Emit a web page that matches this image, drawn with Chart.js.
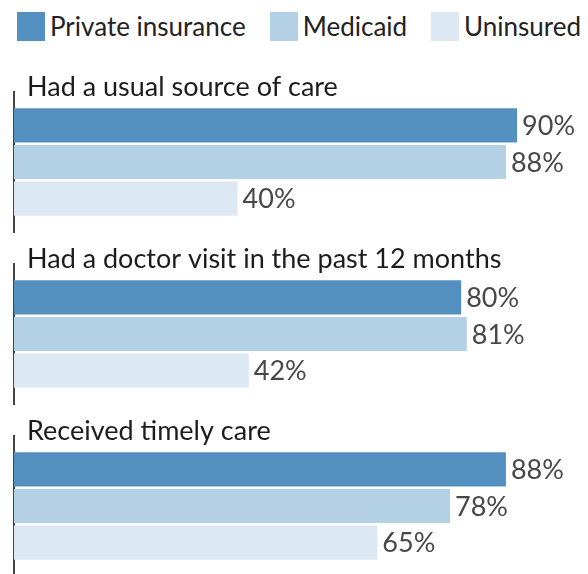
<!DOCTYPE html>
<html>
<head>
<meta charset="utf-8">
<script src="https://cdn.jsdelivr.net/npm/chart.js@4"></script>
<style>
  html, body { margin: 0; padding: 0; background: #fff; }
  body { width: 588px; height: 574px; overflow: hidden; }
  #legend {
    height: 62px;
    display: flex;
    align-items: flex-start;
    padding: 12px 0 0 17px;
    box-sizing: border-box;
    font-family: Lato, sans-serif;
    font-size: 26px;
    color: #222;
    white-space: nowrap;
  }
  .item { display: flex; align-items: center; margin-right: 24px; line-height: 29px; }
  .box { width: 28px; height: 29px; margin-right: 5px; }
  canvas { display: block; }
</style>
</head>
<body>
<div id="legend"></div>
<canvas id="g0" width="588" height="172"></canvas>
<canvas id="g1" width="588" height="172"></canvas>
<canvas id="g2" width="588" height="172"></canvas>
<script>
(function () {
  const categories = [
    'Had a usual source of care',
    'Had a doctor visit in the past 12 months',
    'Received timely care',
  ];
  const seriesNames = ['Private insurance', 'Medicaid', 'Uninsured'];
  const privateInsurance = [90, 80, 88];
  const medicaid = [88, 81, 78];
  const uninsured = [40, 42, 65];

  const seriesValues = [privateInsurance, medicaid, uninsured];
  const palette = ['#5490bf', '#b4d0e4', '#dce8f2'];
  const fontFamily = 'Lato, sans-serif';

  // legend (html, built from the series)
  const legend = document.getElementById('legend');
  seriesNames.forEach((name, k) => {
    const item = document.createElement('div');
    item.className = 'item';
    const box = document.createElement('span');
    box.className = 'box';
    box.style.background = palette[k];
    const label = document.createElement('span');
    label.textContent = name;
    item.appendChild(box);
    item.appendChild(label);
    legend.appendChild(item);
  });

  const groupTitle = {
    id: 'groupTitle',
    afterDraw(chart, args, opts) {
      const { ctx, chartArea } = chart;
      ctx.save();
      ctx.font = '27px ' + fontFamily;
      ctx.fillStyle = '#1c1c1c';
      ctx.textAlign = 'left';
      ctx.textBaseline = 'alphabetic';
      ctx.fillText(opts.text, chartArea.left + 13, chartArea.top + 4);
      ctx.restore();
    },
  };

  const valueLabels = {
    id: 'valueLabels',
    afterDatasetsDraw(chart) {
      const { ctx } = chart;
      ctx.save();
      ctx.font = '27px ' + fontFamily;
      ctx.fillStyle = '#484848';
      ctx.textAlign = 'left';
      ctx.textBaseline = 'middle';
      chart.data.datasets.forEach((ds, k) => {
        const meta = chart.getDatasetMeta(k);
        meta.data.forEach((bar, i) => {
          ctx.fillText(ds.data[i] + '%', bar.x + 5, bar.y + 1);
        });
      });
      ctx.restore();
    },
  };

  const GroupChart = (containerId, index) => {
    const ctx = document.getElementById(containerId).getContext('2d');
    const data = {
      labels: [categories[index]],
      datasets: seriesNames.map((name, k) => ({
        label: name,
        data: [seriesValues[k][index]],
        backgroundColor: palette[k],
        borderWidth: 0,
        barPercentage: 0.93,
        categoryPercentage: 0.786,
      })),
    };
    new Chart(ctx, {
      type: 'bar',
      data: data,
      options: {
        indexAxis: 'y',
        responsive: false,
        animation: false,
        layout: { padding: { left: 14, right: 15, top: 30, bottom: 2 } },
        scales: {
          x: { display: false, min: 0, max: 100 },
          y: {
            display: true,
            ticks: { display: false },
            grid: { display: false, drawTicks: false },
            border: { display: true, color: '#444', width: 2 },
          },
        },
        plugins: {
          legend: { display: false },
          tooltip: { enabled: false },
          groupTitle: { text: categories[index] },
        },
      },
      plugins: [groupTitle, valueLabels],
    });
  };

  categories.forEach((c, i) => GroupChart('g' + i, i));
})();
</script>
</body>
</html>
